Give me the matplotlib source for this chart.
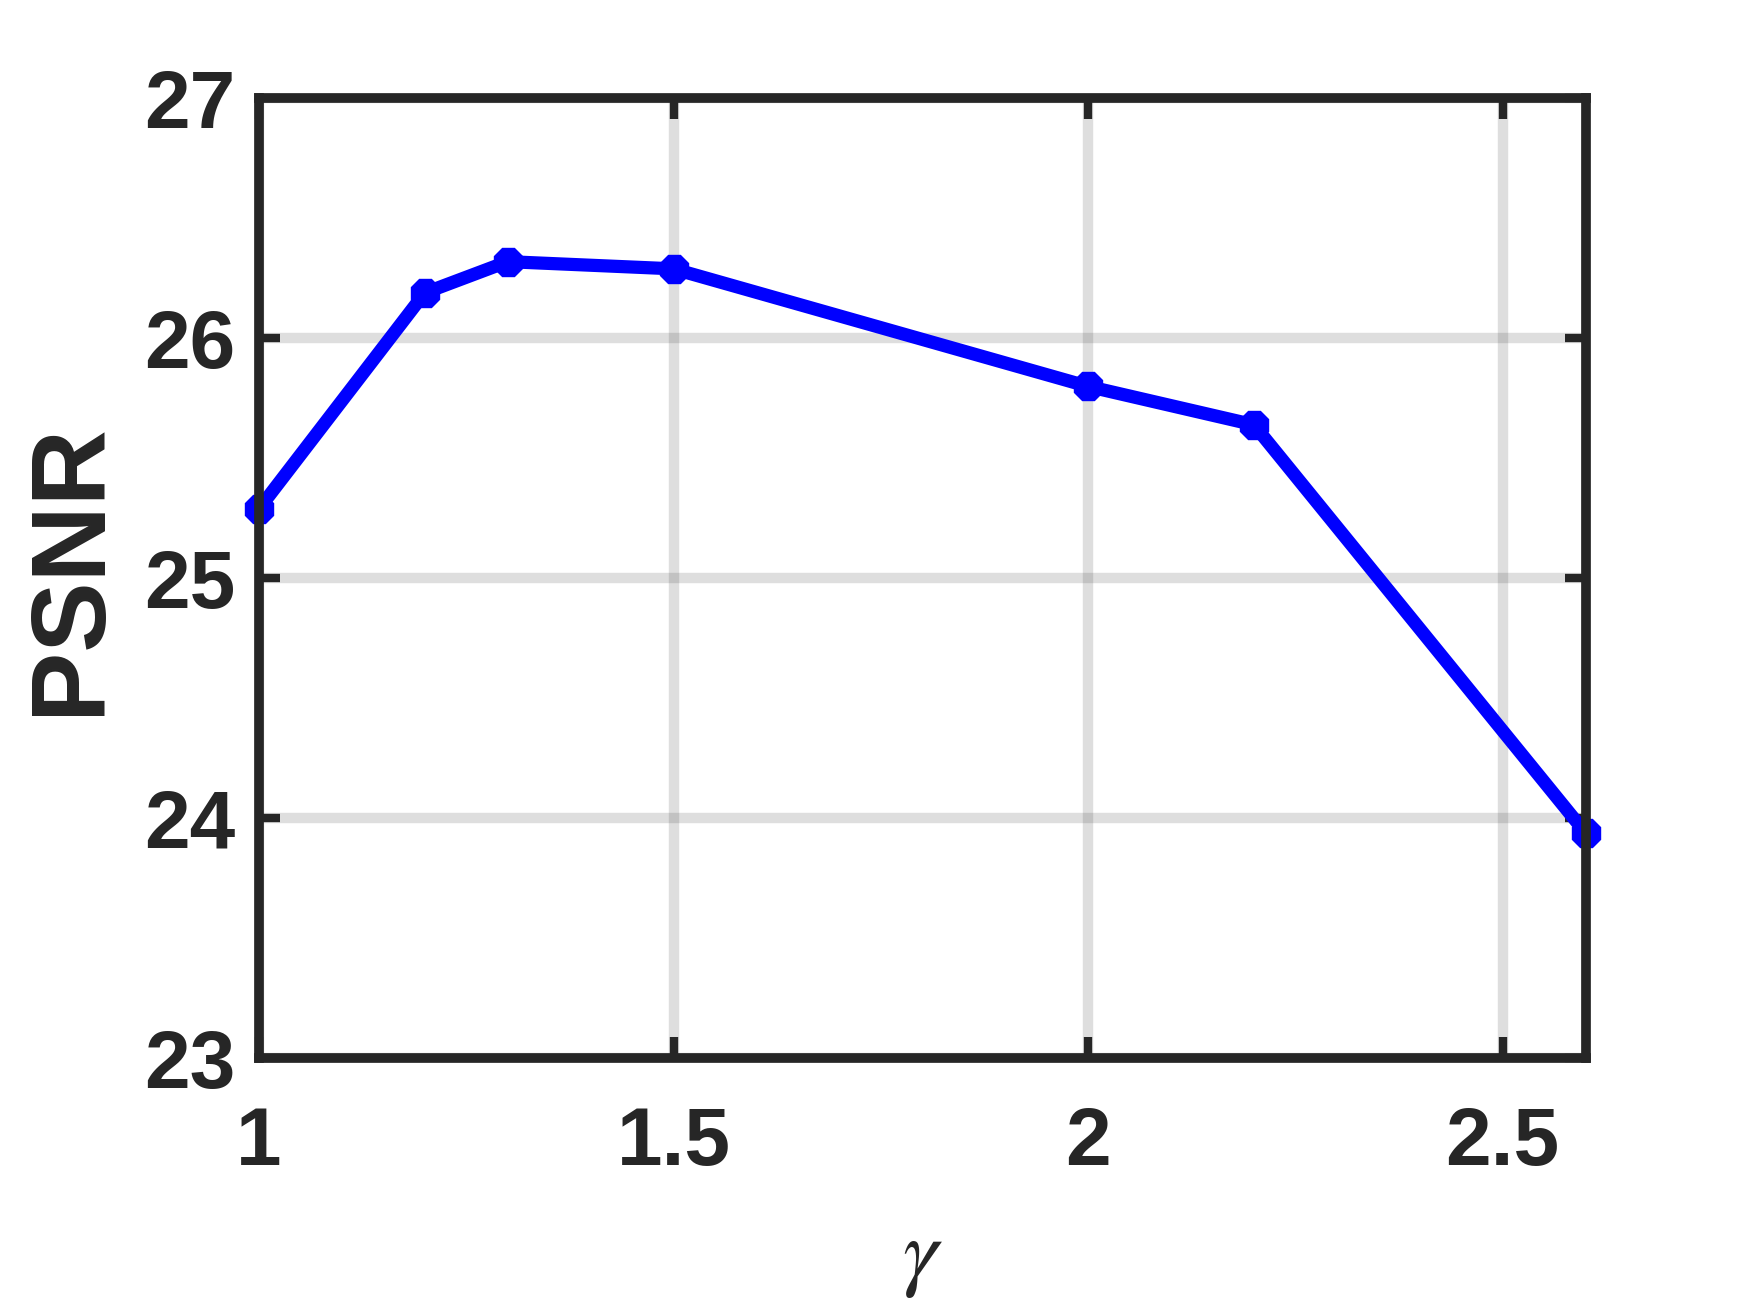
import matplotlib
matplotlib.use("Agg")
import matplotlib.pyplot as plt

gamma = [1.0, 1.2, 1.3, 1.5, 2.0, 2.2, 2.6]
psnr = [25.29, 26.19, 26.32, 26.29, 25.80, 25.64, 23.94]
xticks = [1, 1.5, 2, 2.5]
xticklabels = ["1", "1.5", "2", "2.5"]
yticks = [23, 24, 25, 26, 27]
yticklabels = ["23", "24", "25", "26", "27"]

plt.rcParams['font.family'] = ['Liberation Sans', 'DejaVu Sans']
plt.rcParams['mathtext.fontset'] = 'stix'

fig = plt.figure(figsize=(17.5, 13.13), dpi=100)
ax = fig.add_axes([0.148, 0.194, 0.758, 0.731])

dark = '#262626'
ax.plot(gamma, psnr, color='#0000ff', lw=9.5, marker='8', ms=22,
        mec='#0000ff', mfc='#0000ff', clip_on=False, zorder=5)

ax.set_xlim(1, 2.6)
ax.set_ylim(23, 27)
ax.set_xticks(xticks)
ax.set_xticklabels(xticklabels)
ax.set_yticks(yticks)
ax.set_yticklabels(yticklabels)

ax.grid(True, color='#262626', alpha=0.15, lw=7.5, zorder=0)
ax.set_axisbelow(True)

for s in ax.spines.values():
    s.set_linewidth(7)
    s.set_color(dark)
    s.set_zorder(6)

ax.tick_params(axis='both', direction='in', length=15, width=6, color=dark,
               top=True, right=True, labelcolor=dark, labelsize=59)
ax.tick_params(axis='x', pad=34)
ax.tick_params(axis='y', pad=17)
for lab in ax.get_xticklabels() + ax.get_yticklabels():
    lab.set_fontweight('bold')

ax.set_ylabel('PSNR', fontsize=76, fontweight='bold', color=dark)
ax.yaxis.set_label_coords(-0.141, 0.51)
ax.yaxis.label.set_va('center')

ax.set_xlabel(r'$\gamma$', fontsize=64, color=dark)
ax.xaxis.set_label_coords(0.5, -0.208)
ax.xaxis.label.set_va('center')

fig.savefig('out.png', dpi=100, facecolor='white')
